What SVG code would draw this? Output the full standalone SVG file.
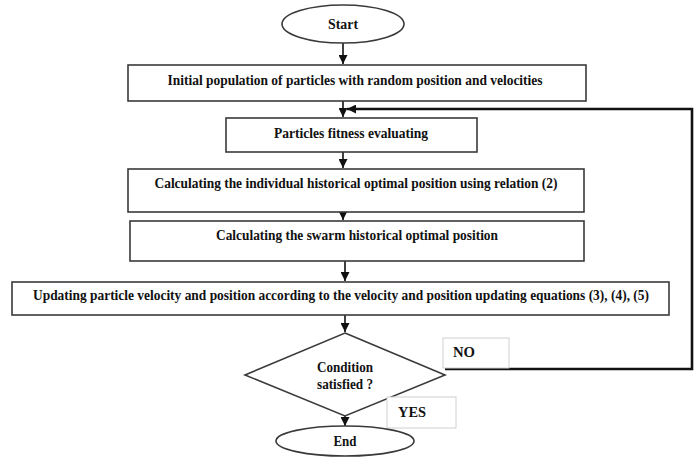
<svg xmlns="http://www.w3.org/2000/svg" width="698" height="466" viewBox="0 0 698 466">
<style>
.box{fill:#fff;stroke:#3a3a3a;stroke-width:1.6}
.lbl{fill:#fff;stroke:#d0d0d0;stroke-width:1}
.t{font-family:"Liberation Serif","Times New Roman",serif;font-weight:bold;font-size:14px;fill:#111}
.c{stroke:#111;stroke-width:1.6;fill:none}
.loop{stroke:#111;stroke-width:2.6;fill:none}
</style>
<defs>
<marker id="ah" viewBox="0 0 10 10" refX="10" refY="5" markerWidth="9" markerHeight="9" markerUnits="userSpaceOnUse" orient="auto">
<path d="M0,0 L10,5 L0,10 z" fill="#111"/>
</marker>
</defs>
<rect width="698" height="466" fill="#fff"/>
<g id="connectors">
<line class="c" x1="343" y1="43" x2="343" y2="64" marker-end="url(#ah)"/>
<line class="c" x1="343" y1="101" x2="343" y2="117" marker-end="url(#ah)"/>
<line class="c" x1="343" y1="152" x2="343" y2="168" marker-end="url(#ah)"/>
<line class="c" x1="343" y1="212" x2="343" y2="220" marker-end="url(#ah)"/>
<line class="c" x1="345" y1="261" x2="345" y2="281" marker-end="url(#ah)"/>
<line class="c" x1="345" y1="315" x2="345" y2="332" marker-end="url(#ah)"/>
<line class="c" x1="345" y1="416" x2="345" y2="426" marker-end="url(#ah)"/>
<polyline class="loop" points="445,369 692,369 692,109 347,109" marker-end="url(#ah)"/>
</g>
<g id="start">
<ellipse class="box" cx="343" cy="24" rx="61" ry="19"/>
<text class="t" x="343" y="29" text-anchor="middle" textLength="30" lengthAdjust="spacingAndGlyphs">Start</text>
</g>
<g id="init">
<rect class="box" x="128" y="65" width="458" height="36"/>
<text class="t" x="355" y="85" text-anchor="middle" textLength="375" lengthAdjust="spacingAndGlyphs">Initial population of particles with random position and velocities</text>
</g>
<g id="fitness">
<rect class="box" x="226" y="118" width="251" height="34"/>
<text class="t" x="351" y="138" text-anchor="middle" textLength="154" lengthAdjust="spacingAndGlyphs">Particles fitness evaluating</text>
</g>
<g id="individual">
<rect class="box" x="128" y="169" width="456" height="43"/>
<text class="t" x="356" y="188" text-anchor="middle" textLength="403" lengthAdjust="spacingAndGlyphs">Calculating the individual historical optimal position using relation (2)</text>
</g>
<g id="swarm">
<rect class="box" x="130" y="221" width="454" height="40"/>
<text class="t" x="357" y="240" text-anchor="middle" textLength="282" lengthAdjust="spacingAndGlyphs">Calculating the swarm historical optimal position</text>
</g>
<g id="update">
<rect class="box" x="12" y="282" width="657" height="33"/>
<text class="t" x="341" y="300" text-anchor="middle" textLength="616" lengthAdjust="spacingAndGlyphs">Updating particle velocity and position according to the velocity and position updating equations (3), (4), (5)</text>
</g>
<g id="condition">
<polygon class="box" points="345,333 445,375 345,416 245,375"/>
<text class="t" x="345" y="372" text-anchor="middle" textLength="56" lengthAdjust="spacingAndGlyphs">Condition</text>
<text class="t" x="345" y="389" text-anchor="middle" textLength="56" lengthAdjust="spacingAndGlyphs">satisfied ?</text>
</g>
<g id="no-label">
<rect class="lbl" x="443" y="338" width="66" height="30"/>
<text class="t" x="453" y="357" textLength="22" lengthAdjust="spacingAndGlyphs">NO</text>
</g>
<g id="yes-label">
<rect class="lbl" x="387" y="397" width="69" height="31"/>
<text class="t" x="398" y="417" textLength="28" lengthAdjust="spacingAndGlyphs">YES</text>
</g>
<g id="end">
<ellipse class="box" cx="345" cy="441" rx="69" ry="15"/>
<text class="t" x="345" y="446" text-anchor="middle" textLength="23" lengthAdjust="spacingAndGlyphs">End</text>
</g>
</svg>
